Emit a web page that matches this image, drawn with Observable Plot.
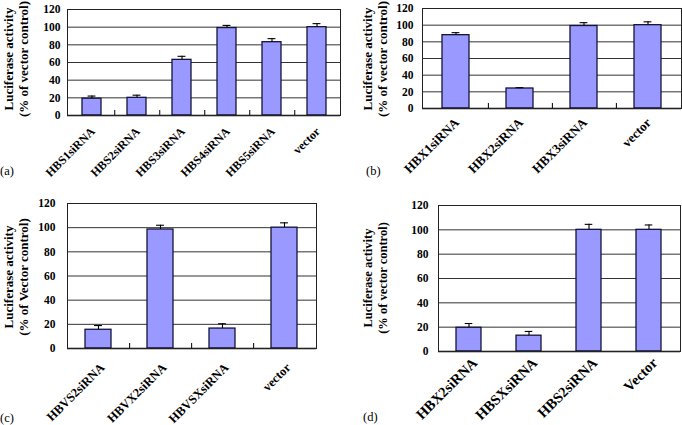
<!DOCTYPE html>
<html>
<head>
<meta charset="utf-8">
<script src="https://cdn.jsdelivr.net/npm/d3@7"></script>
<script src="https://cdn.jsdelivr.net/npm/@observablehq/plot@0.6"></script>
<style>
  html, body { margin: 0; padding: 0; background: #fff; }
  #wrap { position: relative; width: 682px; height: 425px; overflow: hidden; background: #fff; }
  .panel { position: absolute; }
  .tag { position: absolute; font-family: "Liberation Serif", serif; font-size: 12.5px; color: #000; }
  .ylab { position: absolute; width: 160px; height: 32px; text-align: center; font-family: "Liberation Serif", serif;
          font-weight: bold; color: #000; white-space: nowrap; transform: rotate(-90deg); transform-origin: 50% 50%; }
</style>
</head>
<body>
<div id="wrap">
  <div class="panel" id="pa" style="left:0px;top:0px"></div>
  <div class="panel" id="pb" style="left:340px;top:0px"></div>
  <div class="panel" id="pc" style="left:0px;top:190px"></div>
  <div class="panel" id="pd" style="left:340px;top:190px"></div>
  <div class="tag" style="left:0px;top:164px">(a)</div>
  <div class="tag" style="left:366px;top:164px">(b)</div>
  <div class="tag" style="left:0px;top:411px">(c)</div>
  <div class="tag" style="left:363px;top:410px">(d)</div>
</div>
<script>
// ---- data ----
const yTicks = [0, 20, 40, 60, 80, 100, 120];

const aCats = ["HBS1siRNA", "HBS2siRNA", "HBS3siRNA", "HBS4siRNA", "HBS5siRNA", "vector"];
const aValues = [19, 20, 63, 99, 83, 100];
const aErrors = [3, 3, 4, 3, 4, 4];
const aYLabel = ["Luciferase activity", "(% of vector control)"];

const bCats = ["HBX1siRNA", "HBX2siRNA", "HBX3siRNA", "vector"];
const bValues = [88, 24, 99, 100];
const bErrors = [3, 1, 4, 4];
const bYLabel = ["Luciferase activity", "(% of vector control)"];

const cCats = ["HBVS2siRNA", "HBVX2siRNA", "HBVSXsiRNA", "vector"];
const cValues = [15.5, 98.5, 16.5, 100];
const cErrors = [3.5, 3.5, 4, 4];
const cYLabel = ["Luciferase activity", "(% of Vector control)"];

const dCats = ["HBX2siRNA", "HBSXsiRNA", "HBS2siRNA", "Vector"];
const dValues = [19.5, 13, 100, 100];
const dErrors = [3.5, 3.5, 4.5, 4];
const dYLabel = ["Luciferase activity", "(% of vector control)"];

const FONT = "Liberation Serif, Times New Roman, serif";

function panel(p) {
  const data = p.cats.map((c, i) => ({name: c, value: p.values[i], err: p.errors[i]}));
  const innerW = p.width - p.ml - p.mr;
  const innerH = p.height - p.mt - p.mb;
  const step = innerW / p.cats.length;
  const bw = step * (1 - 0.58);
  const capInset = (bw - 8) / 2;
  const pxPerUnit = innerH / 120;
  const marks = [
    Plot.ruleY([20, 40, 60, 80, 100], {stroke: "#333", strokeWidth: 1}),
    Plot.barY(data, {x: "name", y: "value", fill: "#9999ff", stroke: "#14143a", strokeWidth: 1.3}),
    Plot.ruleX(data, {x: "name", y1: "value", y2: d => d.value + d.err, stroke: "#000", strokeWidth: 1.1}),
    Plot.tickY(data, {x: "name", y: d => d.value + d.err, stroke: "#000", strokeWidth: 1.1, insetLeft: capInset, insetRight: capInset}),
    Plot.ruleY([0], {stroke: "#000", strokeWidth: 1.3}),
    Plot.frame({stroke: "#222", strokeWidth: 1}),
    Plot.axisX({tickRotate: -45, tickSize: 0, tickPadding: p.xtp, dx: p.xdx, fontSize: p.xfs, fontWeight: "bold", label: null}),
    Plot.axisY({ticks: yTicks, tickSize: 0, tickPadding: p.ytp, fontSize: 11.5, fontWeight: "bold", label: null, tickFormat: d => String(d)})
  ];
  if (p.ticks) {
    marks.push(Plot.ruleX(p.cats.slice(0, -1), {x: d => d, dx: step / 2, y1: 0, y2: 5 / pxPerUnit, stroke: "#000", strokeWidth: 1}));
  }
  return Plot.plot({
    width: p.width, height: p.height,
    marginLeft: p.ml, marginRight: p.mr, marginTop: p.mt, marginBottom: p.mb,
    style: {fontFamily: FONT, background: "transparent", color: "#000", overflow: "visible"},
    x: {domain: p.cats, paddingInner: 0.58, paddingOuter: 0.29, axis: null},
    y: {domain: [0, 120], axis: null},
    marks
  });
}

function ylabel(lines, cx, cy, fs, lh) {
  const div = document.createElement("div");
  div.className = "ylab";
  div.style.left = (cx - 80) + "px";
  div.style.top = (cy - 16) + "px";
  div.style.fontSize = fs + "px";
  div.style.lineHeight = lh + "px";
  div.style.paddingTop = (16 - lh) + "px";
  div.style.height = (32 - (16 - lh)) + "px";
  lines.forEach((t, i) => {
    const s = document.createElement("div");
    s.textContent = t;
    div.appendChild(s);
  });
  document.getElementById("wrap").appendChild(div);
}

document.getElementById("pa").appendChild(panel({
  cats: aCats, values: aValues, errors: aErrors,
  width: 341, height: 190, ml: 67, mr: 1, mt: 9, mb: 75,
  xtp: 14, xdx: 1, xfs: 12, ytp: 7, ticks: true
}));
document.getElementById("pb").appendChild(panel({
  cats: bCats, values: bValues, errors: bErrors,
  width: 342, height: 190, ml: 82, mr: 1, mt: 8, mb: 82,
  xtp: 12, xdx: 1, xfs: 13, ytp: 9, ticks: true
}));
document.getElementById("pc").appendChild(panel({
  cats: cCats, values: cValues, errors: cErrors,
  width: 341, height: 235, ml: 67, mr: 25, mt: 13, mb: 77,
  xtp: 17, xdx: 4, xfs: 12.5, ytp: 12, ticks: true
}));
document.getElementById("pd").appendChild(panel({
  cats: dCats, values: dValues, errors: dErrors,
  width: 342, height: 235, ml: 98, mr: 2, mt: 15, mb: 74,
  xtp: 9, xdx: 6, xfs: 14.5, ytp: 10, ticks: false
}));

ylabel(aYLabel, 15.5, 59, 13, 15);
ylabel(bYLabel, 375, 59, 13, 15);
ylabel(cYLabel, 15.5, 277, 13, 15);
ylabel(dYLabel, 376, 278, 12.5, 15);
</script>
</body>
</html>
